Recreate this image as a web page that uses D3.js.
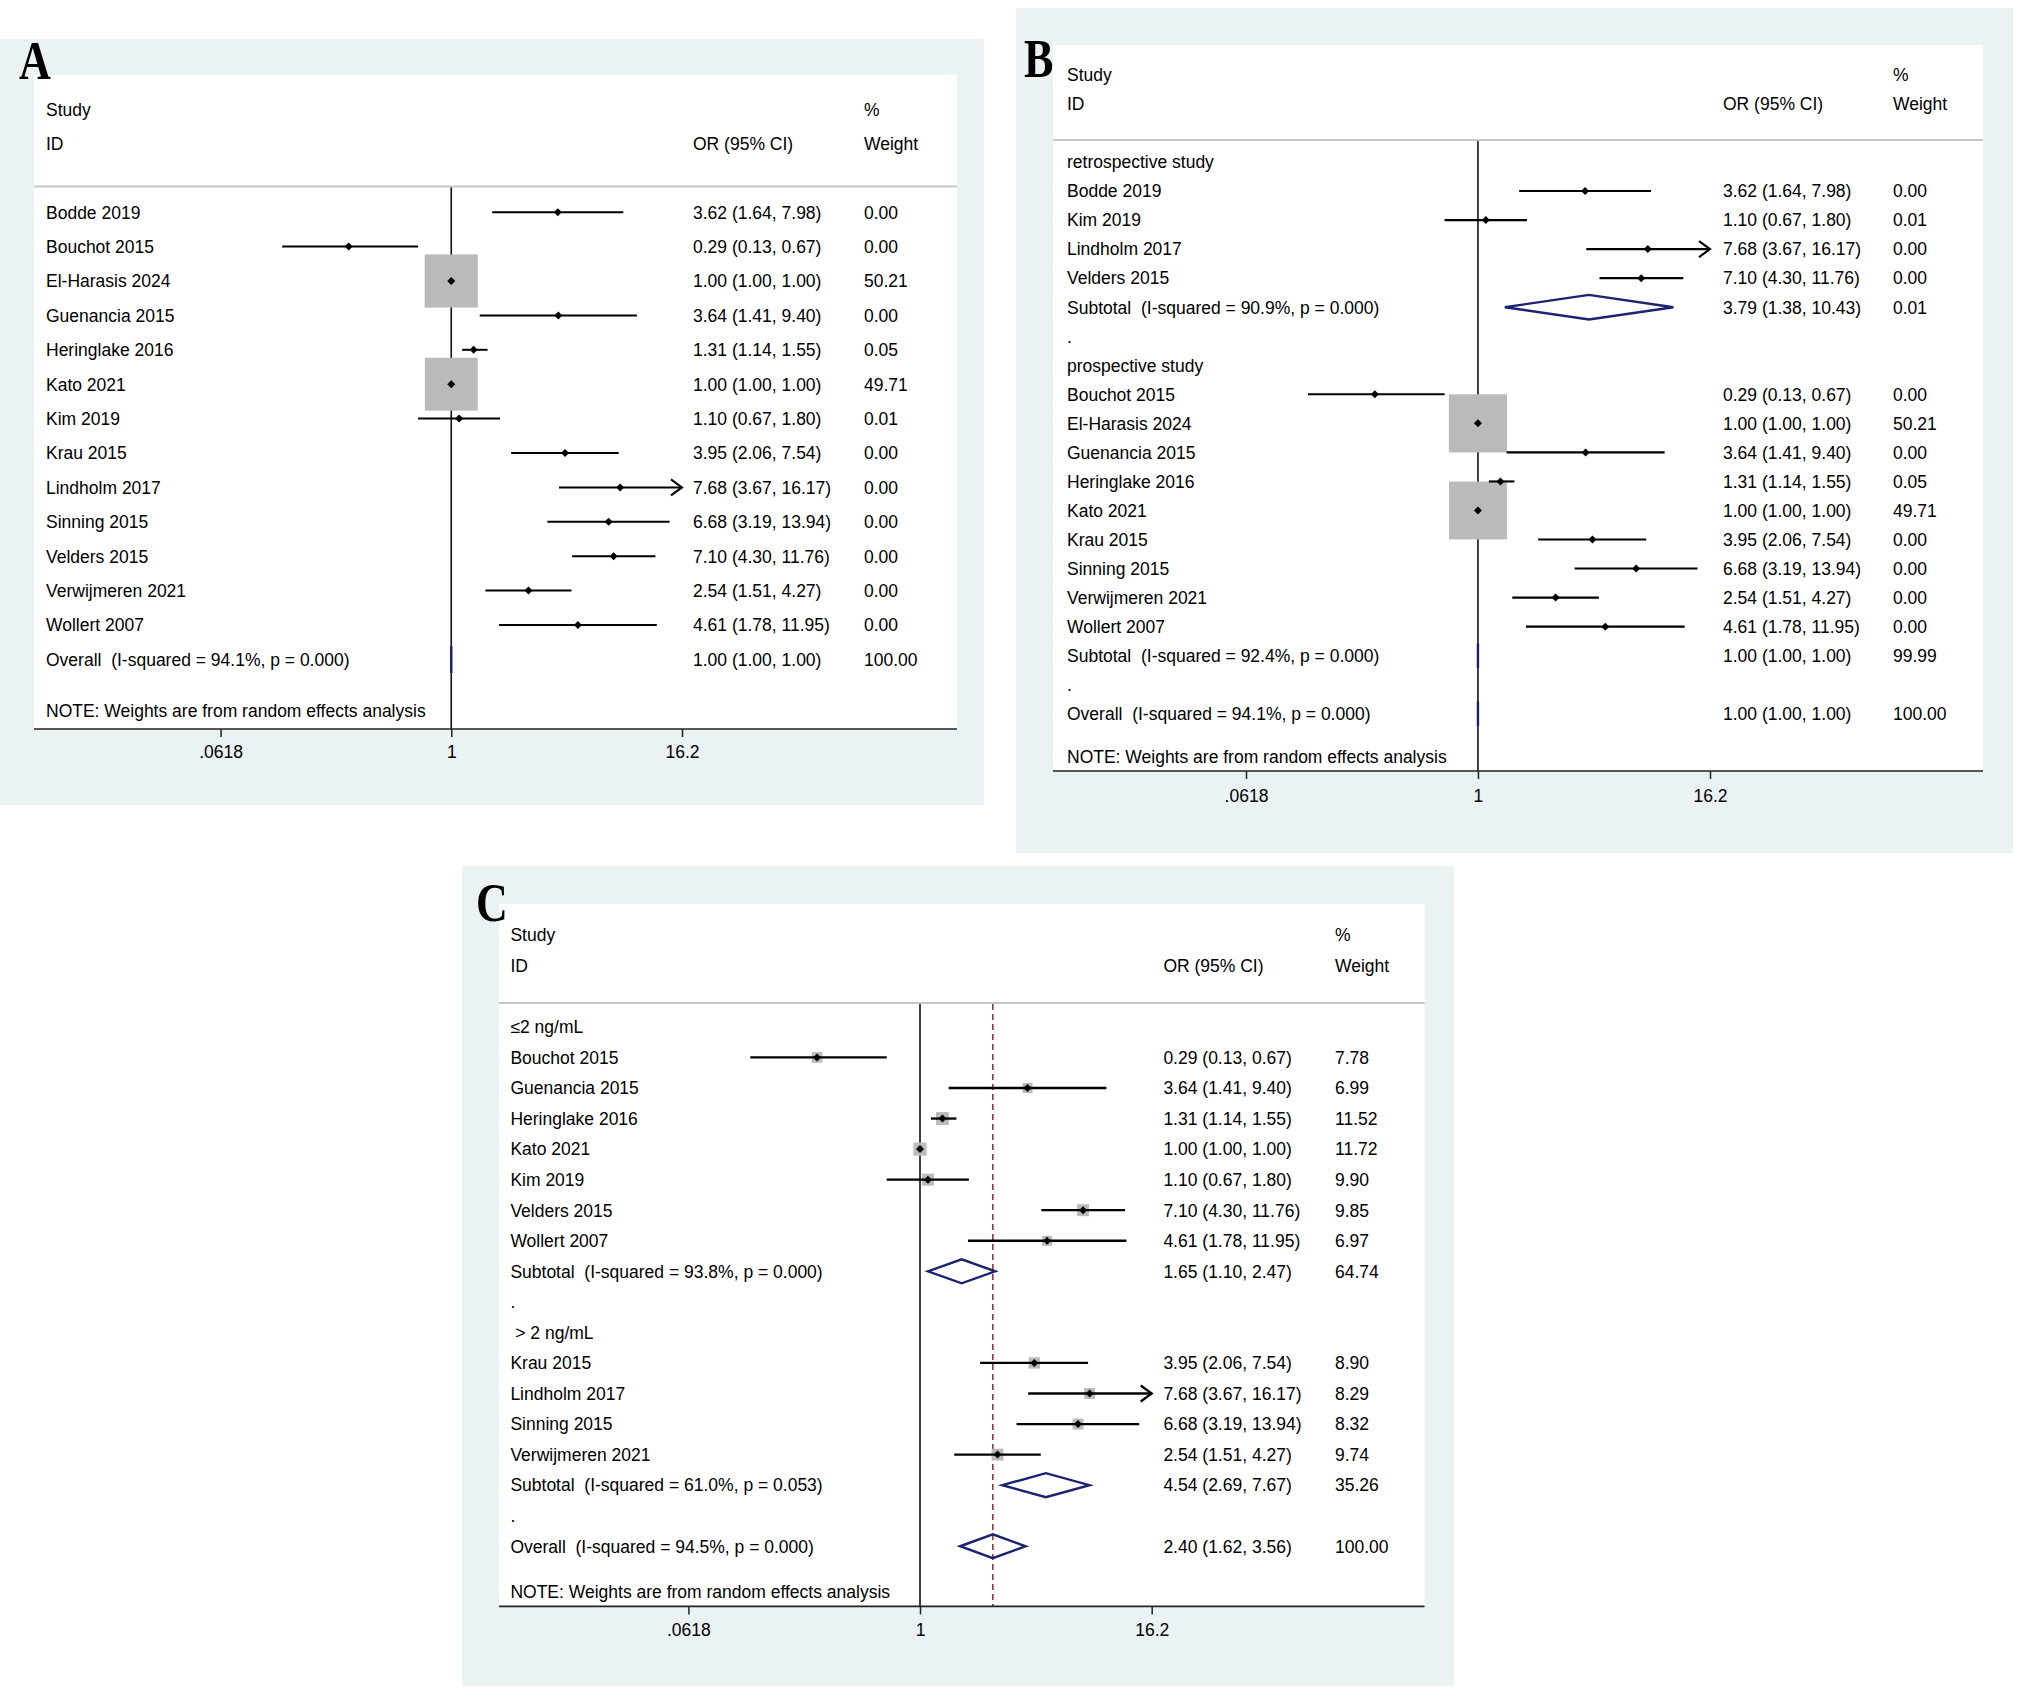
<!DOCTYPE html>
<html>
<head>
<meta charset="utf-8">
<script src="https://cdn.jsdelivr.net/npm/d3@7"></script>
<style>
  body { margin: 0; background: #fff; }
  svg { display: block; }
  text { font-family: "Liberation Sans", Arial, sans-serif; font-size: 17.5px; fill: #000; white-space: pre; }
</style>
</head>
<body>
<svg id="chart" width="2020" height="1697"></svg>
<script>
// ---- data ----
const tickVals = [0.0618, 1, 16.2];
const tickText = [".0618", "1", "16.2"];

// panel A
const labelsA = ["Bodde 2019", "Bouchot 2015", "El-Harasis 2024", "Guenancia 2015", "Heringlake 2016", "Kato 2021",
  "Kim 2019", "Krau 2015", "Lindholm 2017", "Sinning 2015", "Velders 2015", "Verwijmeren 2021", "Wollert 2007",
  "Overall  (I-squared = 94.1%, p = 0.000)"];
const orA   = [3.62, 0.29, 1.00, 3.64, 1.31, 1.00, 1.10, 3.95, 7.68, 6.68, 7.10, 2.54, 4.61, 1.00];
const lowA  = [1.64, 0.13, 1.00, 1.41, 1.14, 1.00, 0.67, 2.06, 3.67, 3.19, 4.30, 1.51, 1.78, 1.00];
const highA = [7.98, 0.67, 1.00, 9.40, 1.55, 1.00, 1.80, 7.54, 16.17, 13.94, 11.76, 4.27, 11.95, 1.00];
const wtA   = [0.00, 0.00, 50.21, 0.00, 0.05, 49.71, 0.01, 0.00, 0.00, 0.00, 0.00, 0.00, 0.00, 100.00];

// panel B
const labelsB = ["retrospective study", "Bodde 2019", "Kim 2019", "Lindholm 2017", "Velders 2015",
  "Subtotal  (I-squared = 90.9%, p = 0.000)", ".", "prospective study", "Bouchot 2015", "El-Harasis 2024",
  "Guenancia 2015", "Heringlake 2016", "Kato 2021", "Krau 2015", "Sinning 2015", "Verwijmeren 2021", "Wollert 2007",
  "Subtotal  (I-squared = 92.4%, p = 0.000)", ".", "Overall  (I-squared = 94.1%, p = 0.000)"];
const orB   = [null, 3.62, 1.10, 7.68, 7.10, 3.79, null, null, 0.29, 1.00, 3.64, 1.31, 1.00, 3.95, 6.68, 2.54, 4.61, 1.00, null, 1.00];
const lowB  = [null, 1.64, 0.67, 3.67, 4.30, 1.38, null, null, 0.13, 1.00, 1.41, 1.14, 1.00, 2.06, 3.19, 1.51, 1.78, 1.00, null, 1.00];
const highB = [null, 7.98, 1.80, 16.17, 11.76, 10.43, null, null, 0.67, 1.00, 9.40, 1.55, 1.00, 7.54, 13.94, 4.27, 11.95, 1.00, null, 1.00];
const wtB   = [null, 0.00, 0.01, 0.00, 0.00, 0.01, null, null, 0.00, 50.21, 0.00, 0.05, 49.71, 0.00, 0.00, 0.00, 0.00, 99.99, null, 100.00];

// panel C
const labelsC = ["≤2 ng/mL", "Bouchot 2015", "Guenancia 2015", "Heringlake 2016", "Kato 2021", "Kim 2019",
  "Velders 2015", "Wollert 2007", "Subtotal  (I-squared = 93.8%, p = 0.000)", ".", " > 2 ng/mL", "Krau 2015",
  "Lindholm 2017", "Sinning 2015", "Verwijmeren 2021", "Subtotal  (I-squared = 61.0%, p = 0.053)", ".",
  "Overall  (I-squared = 94.5%, p = 0.000)"];
const orC   = [null, 0.29, 3.64, 1.31, 1.00, 1.10, 7.10, 4.61, 1.65, null, null, 3.95, 7.68, 6.68, 2.54, 4.54, null, 2.40];
const lowC  = [null, 0.13, 1.41, 1.14, 1.00, 0.67, 4.30, 1.78, 1.10, null, null, 2.06, 3.67, 3.19, 1.51, 2.69, null, 1.62];
const highC = [null, 0.67, 9.40, 1.55, 1.00, 1.80, 11.76, 11.95, 2.47, null, null, 7.54, 16.17, 13.94, 4.27, 7.67, null, 3.56];
const wtC   = [null, 7.78, 6.99, 11.52, 11.72, 9.90, 9.85, 6.97, 64.74, null, null, 8.90, 8.29, 8.32, 9.74, 35.26, null, 100.00];

// ---- colours ----
const bgBlue = "#eaf2f3";
const boxGray = "#bababa";
const navy = "#1b2270";
const maroon = "#94353d";

const svg = d3.select("#chart");

function drawPanel(p, labels, or, low, high, wt) {
  const g = svg.append("g");

  // outer and plot regions
  g.append("rect").attr("x", p.bx0).attr("y", p.by0)
    .attr("width", p.bx1 - p.bx0).attr("height", p.by1 - p.by0).attr("fill", bgBlue);
  g.append("rect").attr("x", p.wx0).attr("y", p.wy0)
    .attr("width", p.wx1 - p.wx0).attr("height", p.axisY - p.wy0).attr("fill", "#fff");

  // panel letter
  g.append("text")
    .attr("transform", `translate(${p.lx},${p.ly}) scale(0.8,1)`)
    .text(p.letter)
    .style("font-family", "'Liberation Serif', 'Times New Roman', serif")
    .style("font-weight", "bold")
    .style("font-size", "55px");

  const base = 6.3; // cap-middle to baseline
  // header
  g.append("text").attr("x", p.labX).attr("y", p.hy1 + base).text("Study");
  g.append("text").attr("x", p.labX).attr("y", p.hy2 + base).text("ID");
  g.append("text").attr("x", p.orX).attr("y", p.hy2 + base).text("OR (95% CI)");
  g.append("text").attr("x", p.wtX).attr("y", p.hy1 + base).text("%");
  g.append("text").attr("x", p.wtX).attr("y", p.hy2 + base).text("Weight");
  g.append("line").attr("x1", p.wx0).attr("x2", p.wx1).attr("y1", p.headY).attr("y2", p.headY)
    .attr("stroke", "#c6c6c6").attr("stroke-width", 2);

  const x = d3.scaleLog().domain([tickVals[0], tickVals[2]]).range([p.x0, p.x1]);
  const rowY = i => p.row0 + i * p.dy;

  const rows = labels.map((l, i) => ({
    label: l, or: or[i], low: low[i], high: high[i], wt: wt[i], y: rowY(i),
    pooled: l.startsWith("Subtotal") || l.startsWith("Overall")
  }));
  const studies = rows.filter(d => d.or !== null && !d.pooled);
  const pooled = rows.filter(d => d.pooled);

  // reference line at 1
  g.append("line").attr("x1", x(1)).attr("x2", x(1)).attr("y1", p.headY + 1).attr("y2", p.axisY)
    .attr("stroke", "#111").attr("stroke-width", 1.6);

  // overall effect dashed line
  if (p.dash) {
    const ov = rows[rows.length - 1].or;
    g.append("line").attr("x1", x(ov)).attr("x2", x(ov)).attr("y1", p.headY + 1).attr("y2", p.axisY)
      .attr("stroke", maroon).attr("stroke-width", 1.6).attr("stroke-dasharray", "6,4");
  }

  // weight boxes
  g.selectAll(".box").data(studies.filter(d => d.wt > 0)).enter().append("rect")
    .attr("x", d => x(d.or) - p.k * Math.sqrt(d.wt) / 2)
    .attr("y", d => d.y - p.k * Math.sqrt(d.wt) / 2)
    .attr("width", d => p.k * Math.sqrt(d.wt))
    .attr("height", d => p.k * Math.sqrt(d.wt))
    .attr("fill", boxGray);

  // CI lines
  const xMax = tickVals[2];
  g.selectAll(".ci").data(studies).enter().append("line")
    .attr("x1", d => x(d.low))
    .attr("x2", d => x(Math.min(d.high, xMax)))
    .attr("y1", d => d.y).attr("y2", d => d.y)
    .attr("stroke", "#000").attr("stroke-width", p.lw);

  // arrows for CIs reaching the axis end
  g.selectAll(".arrow").data(studies.filter(d => d.high >= xMax * 0.99)).enter().append("path")
    .attr("d", d => `M${x(xMax) - 11},${d.y - 8}L${x(xMax)},${d.y}L${x(xMax) - 11},${d.y + 8}`)
    .attr("fill", "none").attr("stroke", "#000").attr("stroke-width", p.lw);

  // point estimates
  g.selectAll(".pt").data(studies).enter().append("path")
    .attr("d", d => `M${x(d.or) - 4},${d.y}L${x(d.or)},${d.y - 4}L${x(d.or) + 4},${d.y}L${x(d.or)},${d.y + 4}Z`)
    .attr("fill", "#000");

  // pooled diamonds
  g.selectAll(".dia").data(pooled).enter().append("path")
    .attr("d", d => `M${x(d.low)},${d.y}L${x(d.or)},${d.y - p.dh}L${x(d.high)},${d.y}L${x(d.or)},${d.y + p.dh}Z`)
    .attr("fill", "none").attr("stroke", navy).attr("stroke-width", 2.4);

  // row texts
  g.selectAll(".lab").data(rows).enter().append("text")
    .attr("x", p.labX).attr("y", d => d.y + base).text(d => d.label);
  g.selectAll(".ortxt").data(rows.filter(d => d.or !== null)).enter().append("text")
    .attr("x", p.orX).attr("y", d => d.y + base)
    .text(d => `${d.or.toFixed(2)} (${d.low.toFixed(2)}, ${d.high.toFixed(2)})`);
  g.selectAll(".wttxt").data(rows.filter(d => d.or !== null)).enter().append("text")
    .attr("x", p.wtX).attr("y", d => d.y + base).text(d => d.wt.toFixed(2));

  g.append("text").attr("x", p.labX).attr("y", p.noteY + base).text("NOTE: Weights are from random effects analysis");

  // axis
  const ax = g.append("g").attr("transform", `translate(0,${p.axisY})`)
    .call(d3.axisBottom(x).tickValues(tickVals).tickFormat((v, i) => tickText[i]).tickSize(8).tickPadding(p.tp));
  ax.select(".domain").remove();
  ax.selectAll(".tick line").attr("stroke", "#222").attr("stroke-width", 1.5);
  ax.selectAll(".tick text").style("font-family", "'Liberation Sans', Arial, sans-serif").style("font-size", "17.5px").attr("fill", "#000");
  g.append("line").attr("x1", p.wx0).attr("x2", p.wx1).attr("y1", p.axisY).attr("y2", p.axisY)
    .attr("stroke", "#222").attr("stroke-width", 1.6);
}

drawPanel({
  letter: "A", lx: 19, ly: 79,
  bx0: 0, bx1: 984, by0: 39, by1: 805,
  wx0: 34, wx1: 957, wy0: 75, axisY: 729,
  labX: 46, orX: 693, wtX: 864,
  hy1: 110, hy2: 144, headY: 186.5,
  row0: 212.2, dy: 34.4, noteY: 710.5,
  x0: 220.6, x1: 682, k: 7.5, dh: 13.5, lw: 2, tp: 8.6, dash: false
}, labelsA, orA, lowA, highA, wtA);

drawPanel({
  letter: "B", lx: 1024, ly: 77,
  bx0: 1016, bx1: 2013, by0: 8, by1: 853,
  wx0: 1053, wx1: 1983, wy0: 45, axisY: 771,
  labX: 1067, orX: 1723, wtX: 1893,
  hy1: 75, hy2: 104, headY: 140,
  row0: 162, dy: 29.04, noteY: 757,
  x0: 1246, x1: 1710, k: 8.2, dh: 12.3, lw: 2.1, tp: 10.9, dash: false
}, labelsB, orB, lowB, highB, wtB);

drawPanel({
  letter: "C", lx: 476, ly: 921,
  bx0: 462, bx1: 1454, by0: 866, by1: 1686,
  wx0: 499, wx1: 1424.5, wy0: 904, axisY: 1606.4,
  labX: 510.4, orX: 1163.4, wtX: 1335,
  hy1: 934.6, hy2: 965.6, headY: 1003,
  row0: 1026.9, dy: 30.55, noteY: 1591.4,
  x0: 688.4, x1: 1151.7, k: 3.8, dh: 12, lw: 2.3, tp: 9.5, dash: true
}, labelsC, orC, lowC, highC, wtC);
</script>
</body>
</html>
